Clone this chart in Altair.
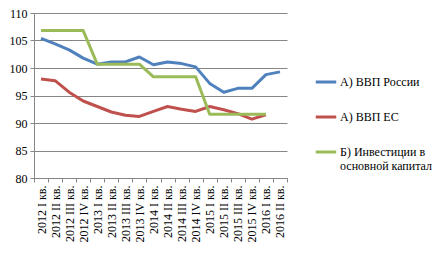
import altair as alt
import pandas as pd

quarters = ["2012 I кв.", "2012 II кв.", "2012 III кв.", "2012 IV кв.",
            "2013 I кв.", "2013 II кв.", "2013 III кв.", "2013 IV кв.",
            "2014 I кв.", "2014 II кв.", "2014 III кв.", "2014 IV кв.",
            "2015 I кв.", "2015 II кв.", "2015 III кв.", "2015 IV кв.",
            "2016 I кв.", "2016 II кв."]

series_names = ["А) ВВП России", "А) ВВП ЕС", "Б) Инвестиции в основной капитал"]

gdp_russia = [105.4, 104.4, 103.3, 101.8, 100.7, 101.1, 101.1, 102.0, 100.6,
              101.1, 100.8, 100.2, 97.2, 95.6, 96.3, 96.3, 98.8, 99.3]
gdp_eu = [98.0, 97.7, 95.6, 94.0, 93.0, 92.0, 91.4, 91.2, 92.1, 93.0, 92.5,
          92.1, 93.0, 92.4, 91.7, 90.7, 91.5]
investment = [106.8, 106.8, 106.8, 106.8, 100.7, 100.7, 100.7, 100.7, 98.4,
              98.4, 98.4, 98.4, 91.6, 91.6, 91.6, 91.6, 91.6]

colors = ["#4F81BD", "#C0504D", "#9BBB59"]

rows = []
for name, vals in zip(series_names, [gdp_russia, gdp_eu, investment]):
    for q, v in zip(quarters, vals):
        rows.append({"quarter": q, "value": v, "series": name})
df = pd.DataFrame(rows)

font = "Liberation Serif"

chart = alt.Chart(df).mark_line(strokeWidth=3, strokeJoin="round").encode(
    x=alt.X("quarter:N", sort=quarters, title=None,
            scale=alt.Scale(paddingInner=0, paddingOuter=0),
            axis=alt.Axis(labelAngle=-90, labelFont=font, labelFontSize=12,
                          labelColor="#000000", tickBand="extent",
                          domainColor="#868686", tickColor="#868686",
                          tickSize=4, labelPadding=3, grid=False,
                          labelOverlap=False)),
    y=alt.Y("value:Q", title=None,
            scale=alt.Scale(domain=[80, 110], nice=False, zero=False),
            axis=alt.Axis(values=[80, 85, 90, 95, 100, 105, 110],
                          labelFont=font, labelFontSize=12,
                          labelColor="#000000", gridColor="#868686",
                          gridWidth=1, domainColor="#868686",
                          tickColor="#868686", tickSize=4, labelPadding=3)),
    color=alt.Color("series:N", sort=series_names, title=None,
                    scale=alt.Scale(domain=series_names, range=colors),
                    legend=alt.Legend(
                        orient="none", legendX=280, legendY=57,
                        symbolType="stroke", symbolSize=420,
                        symbolStrokeWidth=3, labelFont=font,
                        labelFontSize=12, labelColor="#000000",
                        labelOffset=2, rowPadding=17, labelLimit=200,
                        labelExpr="datum.label == 'Б) Инвестиции в основной капитал' ? ['Б) Инвестиции в', 'основной капитал'] : datum.label")),
).properties(
    width=253, height=165,
    autosize=alt.AutoSizeParams(type="none"),
    padding={"left": 26, "top": 5, "right": 146, "bottom": 74},
).configure_view(stroke=None).configure_legend(labelFont=font)

chart.save("out.html", embed_options={"renderer": "svg", "actions": False})
